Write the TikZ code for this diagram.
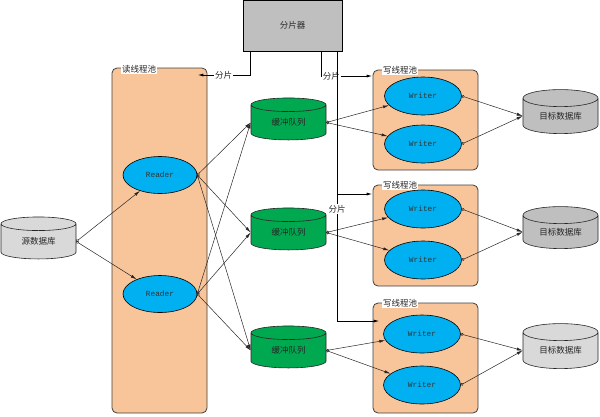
\documentclass[tikz,border=0pt]{standalone}
\usepackage{fontspec}
\setmainfont{Noto Sans CJK SC}
\newfontfamily\latinmono{Liberation Mono}
\usepackage{xcolor}
\usepackage{tikz}
\usetikzlibrary{
  arrows.meta,
  shapes.geometric
}
\definecolor{poolfill}{RGB}{248, 196, 153}
\definecolor{workerblue}{RGB}{0, 176, 240}
\definecolor{queuegreen}{RGB}{0, 168, 80}
\definecolor{boxgray}{RGB}{191, 191, 191}
\definecolor{dblight}{RGB}{217, 217, 217}

\begin{document}
\begin{tikzpicture}[
  x=1pt, y=-1pt,
  cjk/.style={font=\fontsize{8.5}{10}\selectfont, text=black!85},
  pool/.style={draw=black!75, fill=poolfill, rounded corners=5pt, line width=0.8pt, minimum width=105pt, inner sep=0pt},
  poollbl/.style={cjk, fill=white, inner sep=0.6pt},
  worker/.style={ellipse, draw=black, fill=workerblue, line width=0.6pt, minimum width=77pt, minimum height=38pt, inner sep=0pt,
    font=\latinmono\fontsize{7.8}{9}\selectfont, text=black!80},
  db/.style={cylinder, shape border rotate=90, aspect=0.4, draw=black!85, line width=0.6pt, minimum width=75pt, minimum height=42pt, inner sep=0pt, cjk},
  queue/.style={db, fill=queuegreen},
  link/.style={draw=black!85, line width=0.5pt, {Circle[open, length=2.8pt, width=2.8pt]}-{Latex[length=6pt, width=3pt]}},
  shard/.style={draw=black, line width=0.9pt, -{Latex[length=6pt, width=3pt]}},
  shardlbl/.style={cjk, fill=white, inner sep=0.8pt}
]
\useasboundingbox (0,0) rectangle (600,416);

% splitter
\node[draw=black, fill=boxgray, line width=0.8pt, minimum width=99pt, minimum height=51pt, inner sep=0pt, cjk] (splitter) at (292.5,25.5) {分片器};

% thread pools
\node[pool, minimum width=95pt, minimum height=345pt] (readpool) at (159.5,240.5) {};
\node[poollbl] at (139,69) {读线程池};
\node[pool, minimum height=100pt] (wpool1) at (425.5,120) {};
\node[poollbl] at (400,70) {写线程池};
\node[pool, minimum height=101pt] (wpool2) at (425.5,235.5) {};
\node[poollbl] at (400,185) {写线程池};
\node[pool, minimum height=110pt] (wpool3) at (425.5,358) {};
\node[poollbl] at (400,303) {写线程池};

% databases and queues
\node[db, fill=dblight] (src) at (38.5,241.5) {源数据库};
\node[queue] (queue1) at (288.5,122.5) {缓冲队列};
\node[queue] (queue2) at (288.5,232.5) {缓冲队列};
\node[queue] (queue3) at (288.5,350.5) {缓冲队列};
\node[db, fill=boxgray, minimum height=44pt] (dst1) at (560.5,116) {目标数据库};
\node[db, fill=boxgray] (dst2) at (560.5,232) {目标数据库};
\node[db, fill=dblight, minimum height=45pt] (dst3) at (560.5,350.5) {目标数据库};

% readers and writers
\node[worker, minimum width=74pt, minimum height=37pt] (reader1) at (160,175) {Reader};
\node[worker, minimum width=74pt, minimum height=37pt] (reader2) at (160,294) {Reader};
\node[worker] (writer11) at (423,96) {Writer};
\node[worker] (writer12) at (423,144) {Writer};
\node[worker] (writer21) at (423,209) {Writer};
\node[worker] (writer22) at (423,260) {Writer};
\node[worker] (writer31) at (422,334) {Writer};
\node[worker] (writer32) at (422,385) {Writer};

% data flow
\draw[link] (src.east) -- (reader1);
\draw[link] (src.east) -- (reader2);
\foreach \r in {reader1, reader2}
  \foreach \q in {queue1, queue2, queue3}
    \draw[link] (\r.east) -- (\q.west);
\foreach \q/\w in {queue1/writer11, queue1/writer12, queue2/writer21, queue2/writer22, queue3/writer31, queue3/writer32}
  \draw[link] (\q.east) -- (\w);
\foreach \w/\d in {writer11/dst1, writer12/dst1, writer21/dst2, writer22/dst2, writer31/dst3, writer32/dst3}
  \draw[link] (\w.east) -- (\d.west);

% shards
\coordinate (tap1) at (250,75);
\draw[shard] (tap1 |- splitter.south) -- (tap1) -- node[shardlbl]{分片} ([xshift=-10pt]readpool.east |- tap1);
\coordinate (tap2) at (321,76);
\draw[shard] (tap2 |- splitter.south) -- (tap2) -- node[shardlbl, pos=0.2]{分片} (wpool1.west |- tap2);
\coordinate (tap3) at (337,321);
\coordinate (tap3b) at (337,194);
\draw[shard] (tap3 |- splitter.south) -- node[shardlbl, pos=0.585]{分片} (tap3) -- ([xshift=7pt]wpool3.west |- tap3);
\draw[shard] (tap3b) -- (wpool2.west |- tap3b);

\end{tikzpicture}
\end{document}
